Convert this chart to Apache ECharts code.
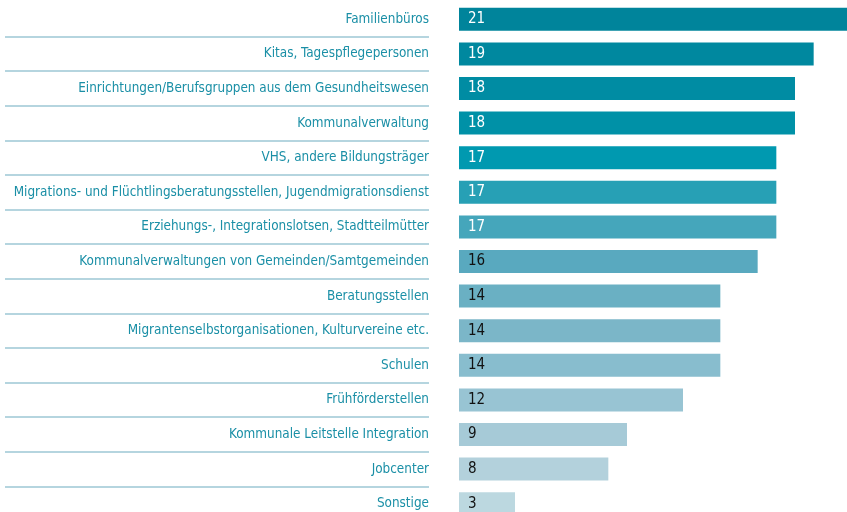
<!DOCTYPE html>
<html><head><meta charset="utf-8">
<script src="https://cdn.jsdelivr.net/npm/echarts@6/dist/echarts.min.js"></script>
<style>html,body{margin:0;padding:0;background:#fff}#c{width:847px;height:512px}</style>
</head><body><div id="c"></div>
<script>
const categories = [
  "Familienbüros",
  "Kitas, Tagespflegepersonen",
  "Einrichtungen/Berufsgruppen aus dem Gesundheitswesen",
  "Kommunalverwaltung",
  "VHS, andere Bildungsträger",
  "Migrations- und Flüchtlingsberatungsstellen, Jugendmigrationsdienst",
  "Erziehungs-, Integrationslotsen, Stadtteilmütter",
  "Kommunalverwaltungen von Gemeinden/Samtgemeinden",
  "Beratungsstellen",
  "Migrantenselbstorganisationen, Kulturvereine etc.",
  "Schulen",
  "Frühförderstellen",
  "Kommunale Leitstelle Integration",
  "Jobcenter",
  "Sonstige"
];
const values = [21, 19, 18, 18, 17, 17, 17, 16, 14, 14, 14, 12, 9, 8, 3];
const barColors = ["#00849b","#00889f","#008ca3","#0091a7","#0099b0","#27a0b5","#45a6bb","#59a9bf","#6ab0c3","#7bb6c8","#88bdce","#98c4d3","#a6cad7","#b3d1dc","#bcd8e0"];
const labelColors = ["#fff","#fff","#fff","#fff","#fff","#fff","#fff","#111","#111","#111","#111","#111","#111","#111","#111"];

const FONT = '"DejaVu Sans Condensed", Roboto, sans-serif';
const chart = echarts.init(document.getElementById('c'), null, {renderer:'canvas'});
const gridTop = 2, gridH = 519;
chart.setOption({
  animation: false,
  grid: [
    {left: 459, width: 392, top: gridTop, height: gridH, containLabel: false, outerBoundsMode: 'none'},
    {left: 5, width: 424, top: gridTop, height: gridH, containLabel: false, outerBoundsMode: 'none'}
  ],
  xAxis: [
    {gridIndex: 0, type: 'value', min: 0, max: 21, show: false},
    {gridIndex: 1, type: 'value', min: 0, max: 1, show: false}
  ],
  yAxis: [
    {gridIndex: 0, type: 'category', data: categories, inverse: true,
     axisLine: {show: false}, axisTick: {show: false}, splitLine: {show: false},
     axisLabel: {margin: 30, color: '#1a8fa6', fontSize: 13.4, fontFamily: FONT, align: 'right'}},
    {gridIndex: 1, type: 'category', data: categories, inverse: true,
     axisLine: {show: false}, axisTick: {show: false}, axisLabel: {show: false},
     splitLine: {show: true, interval: 0, showMinLine: false, showMaxLine: false,
                 lineStyle: {color: '#b5d5df', width: 2}}}
  ],
  series: [{
    type: 'bar', xAxisIndex: 0, yAxisIndex: 0, barWidth: 23,
    data: values.map((v, i) => ({value: v, itemStyle: {color: barColors[i]},
      label: {color: labelColors[i]}})),
    label: {show: true, position: 'insideLeft', distance: 9, fontSize: 15, fontFamily: FONT}
  }]
});
</script></body></html>
